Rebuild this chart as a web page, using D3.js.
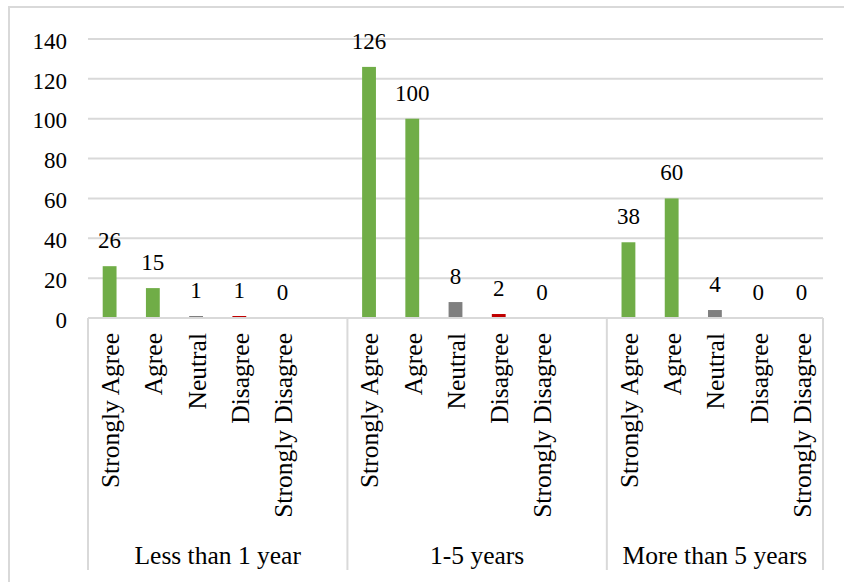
<!DOCTYPE html>
<html>
<head>
<meta charset="utf-8">
<script src="https://cdn.jsdelivr.net/npm/d3@7/dist/d3.min.js"></script>
<style>
  html, body { margin: 0; padding: 0; background: #fff; }
  svg { display: block; }
</style>
</head>
<body>
<svg id="chart" width="844" height="582"></svg>
<script>
// Responses by length of experience
const groups = ["Less than 1 year", "1-5 years", "More than 5 years"];
const responses = ["Strongly Agree", "Agree", "Neutral", "Disagree", "Strongly Disagree"];
const lessThan1Year = [26, 15, 1, 1, 0];
const oneToFiveYears = [126, 100, 8, 2, 0];
const moreThan5Years = [38, 60, 4, 0, 0];
const yTicks = [0, 20, 40, 60, 80, 100, 120, 140];

const FONT = "'Liberation Serif', 'Times New Roman', serif";
const seriesByGroup = [lessThan1Year, oneToFiveYears, moreThan5Years];
const responseColor = {
  "Strongly Agree": "#70ad47",
  "Agree": "#70ad47",
  "Neutral": "#7f7f7f",
  "Disagree": "#c00000",
  "Strongly Disagree": "#c00000"
};

// Flatten into category slots; an empty slot follows each group except the last
const slots = [];
const rows = [];
groups.forEach((g, gi) => {
  responses.forEach((r, ri) => {
    const key = gi + "|" + r;
    slots.push(key);
    rows.push({ key, group: g, gi, response: r, value: seriesByGroup[gi][ri] });
  });
  if (gi < groups.length - 1) slots.push(gi + "|gap");
});

const svg = d3.select("#chart");
const plot = { left: 88, right: 823, top: 39, bottom: 318, groupBottom: 570 };

// Outer frame
svg.append("rect")
  .attr("x", 9).attr("y", 7)
  .attr("width", 850).attr("height", 590)
  .attr("fill", "#fff")
  .attr("stroke", "#d9d9d9").attr("stroke-width", 2);

const x = d3.scaleBand().domain(slots).range([plot.left, plot.right]).padding(0);
const y = d3.scaleLinear().domain([0, 140]).range([plot.bottom, plot.top]);

// Horizontal gridlines
svg.append("g").selectAll("line")
  .data(yTicks.filter(t => t > 0))
  .join("line")
  .attr("x1", plot.left).attr("x2", plot.right)
  .attr("y1", d => y(d)).attr("y2", d => y(d))
  .attr("stroke", "#d9d9d9").attr("stroke-width", 2);

// Y axis labels
const yAxis = svg.append("g")
  .attr("transform", `translate(${plot.left},0)`)
  .call(d3.axisLeft(y).tickValues(yTicks).tickSize(0).tickPadding(21));
yAxis.attr("font-family", null).attr("font-size", null);
yAxis.select(".domain").remove();
yAxis.selectAll("text")
  .attr("dy", "0.4em")
  .style("font-family", FONT)
  .style("font-size", "23px")
  .attr("fill", "#000");

// Bars
const barW = x.bandwidth() * 0.32;
svg.append("g").selectAll("rect")
  .data(rows)
  .join("rect")
  .attr("x", d => x(d.key) + (x.bandwidth() - barW) / 2)
  .attr("y", d => y(d.value))
  .attr("width", barW)
  .attr("height", d => y(0) - y(d.value))
  .attr("fill", d => responseColor[d.response]);

// Category axis line and group separators
svg.append("line")
  .attr("x1", plot.left).attr("x2", plot.right)
  .attr("y1", y(0)).attr("y2", y(0))
  .attr("stroke", "#d9d9d9").attr("stroke-width", 2);

const groupStart = gi => x(gi + "|" + responses[0]);
const groupEnd = gi => gi < groups.length - 1 ? groupStart(gi + 1) : plot.right;
const bounds = groups.map((g, gi) => groupStart(gi)).concat([plot.right]);
svg.append("g").selectAll("line")
  .data(bounds)
  .join("line")
  .attr("x1", d => d).attr("x2", d => d)
  .attr("y1", y(0)).attr("y2", plot.groupBottom)
  .attr("stroke", "#d9d9d9").attr("stroke-width", 2);

// Value labels
svg.append("g").selectAll("text")
  .data(rows)
  .join("text")
  .attr("x", d => x(d.key) + x.bandwidth() / 2)
  .attr("y", d => y(d.value) - 18)
  .attr("text-anchor", "middle")
  .style("font-family", FONT)
  .style("font-size", "23px")
  .attr("fill", "#000")
  .text(d => d.value);

// Rotated response labels
svg.append("g").selectAll("text")
  .data(rows)
  .join("text")
  .attr("transform", d => `translate(${x(d.key) + x.bandwidth() / 2},333) rotate(-90)`)
  .attr("text-anchor", "end")
  .attr("dy", "0.37em")
  .style("font-family", FONT)
  .style("font-size", "25.5px")
  .attr("fill", "#000")
  .text(d => d.response);

// Group labels
svg.append("g").selectAll("text")
  .data(groups)
  .join("text")
  .attr("x", (d, gi) => (groupStart(gi) + groupEnd(gi)) / 2)
  .attr("y", 564)
  .attr("text-anchor", "middle")
  .style("font-family", FONT)
  .style("font-size", "25.5px")
  .attr("fill", "#000")
  .text(d => d);
</script>
</body>
</html>
